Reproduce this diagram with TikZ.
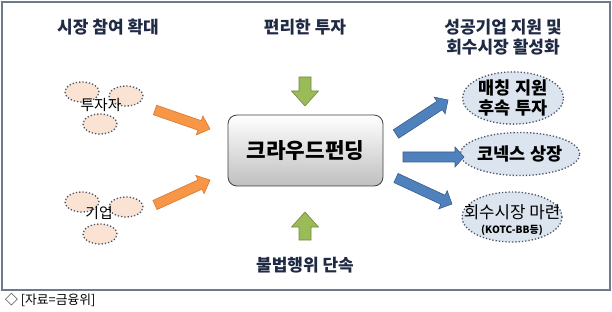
\documentclass[tikz,border=0pt]{standalone}
\usepackage{fontspec}
\setmainfont{Noto Sans CJK KR}
\usetikzlibrary{shapes.geometric,calc}
\definecolor{navy}{HTML}{1F2A44}
\definecolor{framec}{HTML}{6B7B8C}
\definecolor{peach}{HTML}{FBE3D4}
\definecolor{paleblue}{HTML}{DCE4EF}
\definecolor{dotc}{HTML}{4A5568}
\definecolor{orf}{HTML}{F79646}
\definecolor{orb}{HTML}{D9782F}
\definecolor{grf}{HTML}{9BBB59}
\definecolor{grb}{HTML}{71893F}
\definecolor{blf}{HTML}{4F81BD}
\definecolor{blb}{HTML}{385D8A}
\newcommand{\blockarrow}[6]{%
  \path (#2) coordinate (ba-a) (#3) coordinate (ba-b);
  \path ($(ba-b)!#6!(ba-a)$) coordinate (ba-h);
  \draw[#1] ($(ba-a)!#4!90:(ba-b)$) -- ($(ba-h)!#4!90:(ba-b)$) -- ($(ba-h)!#5!90:(ba-b)$) -- (ba-b)
    -- ($(ba-h)!#5!-90:(ba-b)$) -- ($(ba-h)!#4!-90:(ba-b)$) -- ($(ba-a)!#4!-90:(ba-b)$) -- cycle;}
\tikzset{
  title/.style={font=\fontsize{17}{20.5}\selectfont\bfseries, text=navy, align=center, inner sep=0},
  smallell/.style={ellipse, draw=dotc, dotted, line width=1.3pt, fill=peach, minimum width=34pt, minimum height=20pt, inner sep=0},
  bigell/.style={ellipse, draw=dotc, dotted, line width=1.3pt, fill=paleblue, inner sep=0, align=center},
  orarrow/.style={fill=orf, draw=orb, line width=0.6pt, line join=miter},
  grarrow/.style={fill=grf, draw=grb, line width=0.6pt, line join=miter},
  blarrow/.style={fill=blf, draw=blb, line width=0.6pt, line join=miter},
  ellfont/.style={font=\fontsize{17.5}{20.5}\selectfont\bfseries},
}
\begin{document}
\begin{tikzpicture}[x=1pt,y=-1pt]
\useasboundingbox (0,0) rectangle (612,312);
\draw[framec, line width=1.8pt, fill=white] (2,2) rectangle (610,290);

% titles
\node[title] (t1) at (108,27) {시장 참여 확대};
\node[title] (t2) at (305,27) {편리한 투자};
\node[title] (t3) at (503,37) {성공기업 지원 및\\회수시장 활성화};
\node[title] (t4) at (305,265) {불법행위 단속};

% investors
\node[smallell] (i1) at (82,92) {};
\node[smallell] (i2) at (126,96) {};
\node[smallell] (i3) at (100,124) {};
\node[font=\fontsize{14.8}{16}\selectfont, inner sep=0] (inv) at (101,105) {투자자};

% enterprises
\node[smallell] (e1) at (82,202) {};
\node[smallell] (e2) at (126,207) {};
\node[smallell] (e3) at (100,234) {};
\node[font=\fontsize{14.8}{16}\selectfont, inner sep=0] (ent) at (99,213) {기업};

% central box
\node[draw=black!75, line width=0.8pt, rounded corners=9pt, top color=white, bottom color=black!25,
      minimum width=155pt, minimum height=71pt, font=\fontsize{21.3}{24}\selectfont\bfseries] (c) at (305.5,150.5) {크라우드펀딩};

% right ellipses
\node[bigell, minimum width=101pt, minimum height=49pt, ellfont] (r1) at (513,98) {매칭 지원\\후속 투자};
\node[bigell, minimum width=100pt, minimum height=43pt, ellfont] (r2) at (520,154) {코넥스 상장};
\node[bigell, minimum width=100pt, minimum height=50pt] (r3) at (512,217) {};
\node[font=\fontsize{16.8}{18}\selectfont, inner sep=0] (r3a) at (512,212) {회수시장 마련};
\node[font=\fontsize{10}{11}\selectfont\bfseries, inner sep=0] (r3b) at (512,230) {(KOTC-BB등)};

% arrow endpoints
\coordinate (oa1) at (155,110); \coordinate (ob1) at (210,129);
\coordinate (oa2) at (155,205); \coordinate (ob2) at (210,180);
\coordinate (ga1) at (305,77);  \coordinate (gb1) at (305,106);
\coordinate (ga2) at (305,240); \coordinate (gb2) at (305,212);
\coordinate (ba1) at (396,134); \coordinate (bb1) at (448,100);
\coordinate (ba2) at (403,157); \coordinate (bb2) at (464,157);
\coordinate (ba3) at (396,178); \coordinate (bb3) at (452,204);

\blockarrow{orarrow}{oa1}{ob1}{5pt}{10pt}{11pt}
\blockarrow{orarrow}{oa2}{ob2}{5pt}{10pt}{11pt}
\blockarrow{grarrow}{ga1}{gb1}{6pt}{13.5pt}{15pt}
\blockarrow{grarrow}{ga2}{gb2}{6pt}{13.5pt}{15pt}
\blockarrow{blarrow}{ba1}{bb1}{5pt}{10pt}{10pt}
\blockarrow{blarrow}{ba2}{bb2}{5pt}{10pt}{9pt}
\blockarrow{blarrow}{ba3}{bb3}{5pt}{10pt}{10pt}

% caption
\node[anchor=west, font=\fontsize{12.8}{14}\selectfont, inner sep=0] (cap) at (5,300) {◇ [자료=금융위]};
\end{tikzpicture}
\end{document}
